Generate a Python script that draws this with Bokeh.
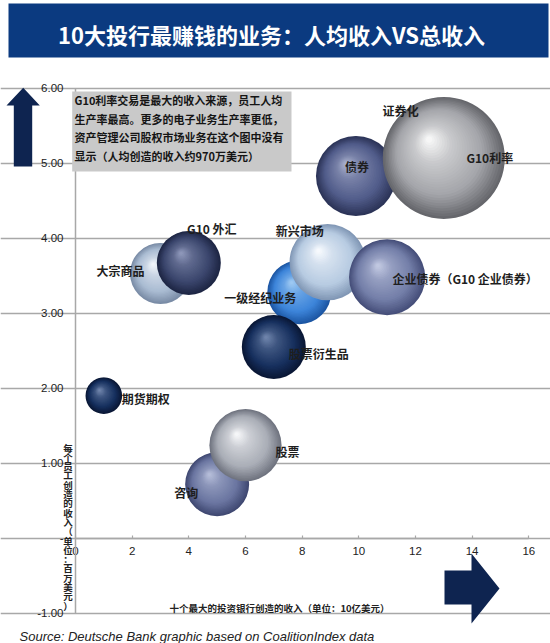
import math
from bokeh.plotting import figure
from bokeh.models import (ColumnDataSource, FixedTicker, LinearAxis, Range1d,
                          BoxAnnotation, Label, Grid)
from bokeh.core.properties import value
from bokeh.embed import file_html
from bokeh.resources import INLINE

# ---------------- data ----------------
title_text = "10大投行最赚钱的业务：人均收入VS总收入"
categories = ["证券化", "债券", "G10利率", "大宗商品", "G10 外汇", "一级经纪业务",
              "新兴市场", "企业债券（G10 企业债券）", "股票衍生品", "期货期权", "咨询", "股票"]
total_revenue_bn = [12.5, 9.9, 13.0, 3.0, 4.0, 7.9, 8.9, 11.0, 7.0, 1.0, 5.0, 6.0]
revenue_per_employee_mn = [5.05, 4.83, 5.07, 3.53, 3.67, 3.28, 3.68, 3.48, 2.55, 1.90, 0.72, 1.24]
bubble_value = [54, 43, 100, 25, 27.5, 27.5, 39, 39, 27.5, 9, 27.5, 35]

x_ticks = [0, 2, 4, 6, 8, 10, 12, 14, 16]
x_tick_labels = ["0", "2", "4", "6", "8", "10", "12", "14", "16"]
y_ticks = [-1, 0, 1, 2, 3, 4, 5, 6]
y_tick_labels = ["-1.00", "-", "1.00", "2.00", "3.00", "4.00", "5.00", "6.00"]
x_axis_title = "十个最大的投资银行创造的收入（单位：10亿美元）"
y_axis_title = "每个员工创造的收入（单位：百万美元）"
note_lines = ["G10利率交易是最大的收入来源，员工人均",
              "生产率最高。更多的电子业务生产率更低，",
              "资产管理公司股权市场业务在这个图中没有",
              "显示（人均创造的收入约970万美元）"]
source_text = "Source: Deutsche Bank graphic based on CoalitionIndex data"

# ---------------- styles ----------------
palette = {
    "证券化": ("#6d6e73", "#a8a9ad", "#f4f4f4"),
    "债券": ("#2c3458", "#515c8a", "#a7aecb"),
    "G10利率": ("#66676c", "#a4a5aa", "#f6f6f6"),
    "大宗商品": ("#7a8ca6", "#a9bbd2", "#f0f4f9"),
    "G10 外汇": ("#1e2644", "#3b466d", "#8d96b8"),
    "一级经纪业务": ("#1c56a3", "#3d85da", "#9cc8f2"),
    "新兴市场": ("#8298b6", "#b7cbe2", "#f6f9fd"),
    "企业债券（G10 企业债券）": ("#464f7a", "#737ea8", "#c0c7e0"),
    "股票衍生品": ("#0a1735", "#17305e", "#6e83aa"),
    "期货期权": ("#0a1735", "#16305e", "#7085ac"),
    "咨询": ("#404972", "#6a75a0", "#b4bcd8"),
    "股票": ("#707480", "#a9adb6", "#f5f6f8"),
}
label_offsets = {  # screen pixels (x right, y down)
    "证券化": (-29, -49),
    "债券": (1, -9),
    "G10利率": (46, 0),
    "大宗商品": (-40, -3),
    "G10 外汇": (23, -34),
    "一级经纪业务": (-39, 5),
    "新兴市场": (-28, -32),
    "企业债券（G10 企业债券）": (78, 1),
    "股票衍生品": (45, 7),
    "期货期权": (42, 3),
    "咨询": (-31, 8),
    "股票": (42, 6),
}

W, H = 550, 643
X0_PX, SX = 75.0, 28.33      # canvas x of data x=0, px per unit
Y0_PX, SY = 537.7, 75.0      # canvas y of data y=0, px per unit
MAX_D = 122.0
NAVY = "#0e2450"
GRID = "#a8a8a8"
TXT = "#222222"
CJK = "Noto Sans CJK SC"


def X(px):
    return (px - X0_PX) / SX


def Y(py):
    return (Y0_PX - py) / SY


def rgb(h):
    h = h.lstrip("#")
    return tuple(int(h[i:i + 2], 16) for i in (0, 2, 4))


def mix(a, b, t):
    return tuple(a[i] + (b[i] - a[i]) * t for i in range(3))


def ramp(edge, mid, hi, t):
    e, m, h = rgb(edge), rgb(mid), rgb(hi)
    light = mix(m, h, 0.45)
    stops = [(0.0, e), (0.3, m), (0.72, light), (1.0, h)]
    for (t0, c0), (t1, c1) in zip(stops[:-1], stops[1:]):
        if t <= t1:
            c = mix(c0, c1, (t - t0) / (t1 - t0))
            break
    return "#%02x%02x%02x" % tuple(int(round(v)) for v in c)


p = figure(width=W, height=H, title=None,
           x_range=Range1d(X(0), X(W)),
           y_range=Range1d(Y(H), Y(0)),
           x_axis_type=None, y_axis_type=None,
           output_backend="svg", toolbar_location=None, min_border=0)
p.outline_line_color = None
p.background_fill_color = "white"
p.border_fill_color = "white"

# grid
grid = Grid(dimension=1, ticker=FixedTicker(ticks=y_ticks), bounds=(0, 16),
            grid_line_color=GRID, grid_line_width=1.5)
p.add_layout(grid)

# axes
xaxis = LinearAxis(fixed_location=0, ticker=FixedTicker(ticks=x_ticks), bounds=(0, 16))
xaxis.major_label_overrides = {t: l for t, l in zip(x_ticks, x_tick_labels)}
yaxis = LinearAxis(fixed_location=0, ticker=FixedTicker(ticks=y_ticks), bounds=(-1, 6))
yaxis.major_label_overrides = {t: l for t, l in zip(y_ticks, y_tick_labels)}
for ax in (xaxis, yaxis):
    ax.axis_line_color = GRID
    ax.axis_line_width = 1.5
    ax.major_tick_line_color = GRID
    ax.major_tick_line_width = 1.2
    ax.minor_tick_line_color = None
    ax.major_label_text_font = "Liberation Sans"
    ax.major_label_text_font_size = "11.5px"
    ax.major_label_text_color = TXT
xaxis.major_tick_in = 3
xaxis.major_tick_out = 0
xaxis.major_label_standoff = 9
yaxis.major_tick_in = 0
yaxis.major_tick_out = 4
yaxis.major_label_standoff = 8
p.add_layout(xaxis, "below")
p.add_layout(yaxis, "left")

# bubbles rendered as shaded spheres
N = 30
vmax = max(bubble_value)
for i, cat in enumerate(categories):
    r = MAX_D / 2 * math.sqrt(bubble_value[i] / vmax)
    edge, mid, hi = palette[cat]
    xs, ys, sizes, colors = [], [], [], []
    for k in range(N):
        t = k / (N - 1)
        rad = r * (1 - t) + 0.05 * r * t
        ox, oy = -0.24 * r * t, -0.30 * r * t
        xs.append(total_revenue_bn[i] + ox / SX)
        ys.append(revenue_per_employee_mn[i] - oy / SY)
        sizes.append(2 * rad)
        colors.append(ramp(edge, mid, hi, t))
    src = ColumnDataSource(dict(x=xs, y=ys, size=sizes, color=colors))
    p.scatter("x", "y", size="size", fill_color="color", line_color=None, source=src)

# bubble labels
lab_src = ColumnDataSource(dict(
    x=total_revenue_bn, y=revenue_per_employee_mn, text=categories,
    dx=[label_offsets[c][0] for c in categories],
    dy=[label_offsets[c][1] for c in categories]))
p.text("x", "y", text="text", x_offset="dx", y_offset="dy", source=lab_src,
       text_font=value(CJK), text_font_size="12px", text_font_style="bold",
       text_color="#1e1e1e", text_align="center", text_baseline="middle")

# note box
p.add_layout(BoxAnnotation(left=X(71.7), right=X(291), top=Y(91), bottom=Y(171),
                           fill_color="#c9c9c9", fill_alpha=1, line_color=None))
for i, line in enumerate(note_lines):
    p.add_layout(Label(x=X(74), y=Y(99.5 + 18.7 * i), text=line, text_font=CJK,
                       text_font_size="11px", text_font_style="bold", text_color="#151515",
                       text_align="left", text_baseline="middle"))

# title bar
p.add_layout(BoxAnnotation(left=X(8), right=X(548), top=Y(3), bottom=Y(57),
                           fill_color="#0b3a80", fill_alpha=1, line_color=None))
p.add_layout(Label(x=X(271), y=Y(33.5), text=title_text, text_font=CJK,
                   text_font_size="22px", text_font_style="bold", text_color="white",
                   text_align="center", text_baseline="middle"))

# axis titles
p.add_layout(Label(x=X(279), y=Y(607), text=x_axis_title, text_font=CJK,
                   text_font_size="9.5px", text_font_style="bold", text_color=TXT,
                   text_align="center", text_baseline="middle"))
ych = list(y_axis_title)
ysrc = ColumnDataSource(dict(x=[X(67.5)] * len(ych), y=[Y(447 + 9.3 * i) for i in range(len(ych))],
                             text=ych))
p.text("x", "y", text="text", source=ysrc, level="annotation",
       text_font=value(CJK), text_font_size="9.5px", text_font_style="bold",
       text_color=TXT, text_align="center", text_baseline="middle")

# source
p.add_layout(Label(x=X(19), y=Y(636), text=source_text, text_font="Liberation Sans",
                   text_font_size="13px", text_font_style="italic", text_color=TXT,
                   text_align="left", text_baseline="alphabetic"))

# arrows
up = [(22.7, 87.3), (39.3, 105), (31.7, 105), (31.7, 166), (13.3, 166), (13.3, 105), (6, 105)]
right = [(444, 570), (471, 570), (471, 553), (499, 588), (471, 623), (471, 604), (444, 604)]
for shape in (up, right):
    p.patch([X(a) for a, b in shape], [Y(b) for a, b in shape],
            fill_color=NAVY, line_color=None, level="annotation")

open("out.html", "w").write(file_html(p, INLINE))
